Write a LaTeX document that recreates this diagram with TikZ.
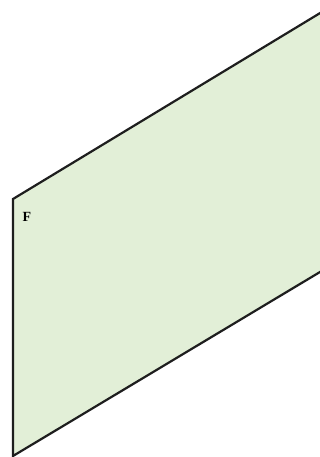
\documentclass[tikz,border=0pt]{standalone}
\usepackage{fontspec}
\setmainfont{Liberation Serif}
\definecolor{panelgreen}{RGB}{226,239,215}
\definecolor{edgeblack}{RGB}{30,30,30}
\tikzset{panel/.style={fill=panelgreen, draw=edgeblack, line width=2.2pt, line join=miter},
  lbl/.style={font=\fontsize{14}{14}\selectfont\bfseries, inner sep=0pt}}
\begin{document}
\begin{tikzpicture}[x=1pt,y=-1pt]
\useasboundingbox (0,0) rectangle (320,457);
\clip (0,0) rectangle (320,457);
\coordinate (tl) at (13,199);
\coordinate (tr) at (340,1);
\coordinate (br) at (340,260);
\coordinate (bl) at (13,456);
\draw[panel] (tl) -- (tr) -- (br) -- (bl) -- cycle;
\node[lbl] (F) at (27,217) {F};
\end{tikzpicture}
\end{document}
